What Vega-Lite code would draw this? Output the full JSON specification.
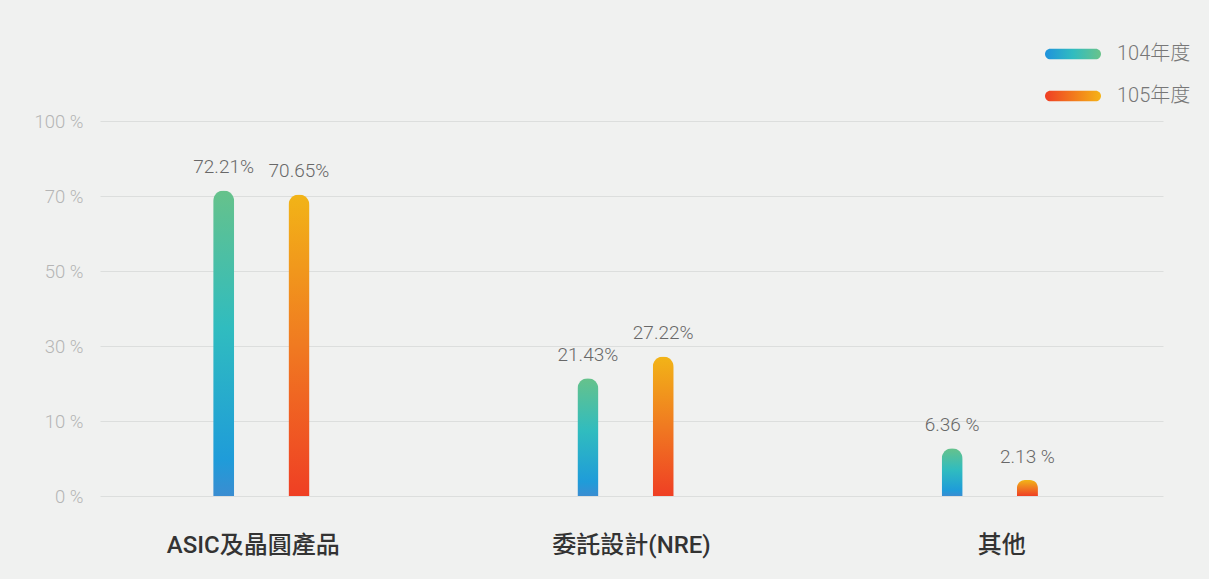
{
  "$schema": "https://vega.github.io/schema/vega-lite/v6.json",
  "width": 1063,
  "height": 375,
  "autosize": "none",
  "padding": {"left": 100, "top": 121, "right": 46, "bottom": 83},
  "background": "#f0f1f0",
  "config": {"view": {"stroke": null}, "font": "Roboto, Noto Sans CJK TC"},
  "data": {"values": [
    {"category": "ASIC及晶圓產品", "year": "104年度", "value": 72.21, "label": "72.21%"},
    {"category": "ASIC及晶圓產品", "year": "105年度", "value": 70.65, "label": "70.65%"},
    {"category": "委託設計(NRE)", "year": "104年度", "value": 21.43, "label": "21.43%"},
    {"category": "委託設計(NRE)", "year": "105年度", "value": 27.22, "label": "27.22%"},
    {"category": "其他", "year": "104年度", "value": 6.36, "label": "6.36 %"},
    {"category": "其他", "year": "105年度", "value": 2.13, "label": "2.13 %"}
  ]},
  "encoding": {
    "x": {
      "field": "category", "type": "nominal", "sort": null,
      "scale": {"paddingInner": 0.7356, "paddingOuter": 0.327, "align": 0.475},
      "axis": {
        "title": null, "domain": false, "ticks": false, "labelAngle": 0,
        "labelFontSize": 24, "labelColor": "#333333", "labelFontWeight": 500,
        "labelPadding": 49, "labelBaseline": "middle",
        "labelOffset": {"condition": [{"test": "datum.value === 'ASIC及晶圓產品'", "value": -8}, {"test": "datum.value === '其他'", "value": 12}], "value": 6}
      }
    },
    "xOffset": {"field": "year", "type": "nominal", "scale": {"paddingInner": 0.721, "paddingOuter": 0}},
    "y": {
      "field": "value", "type": "quantitative",
      "scale": {"type": "linear", "domain": [0, 10, 30, 50, 70, 100], "range": [375, 300, 225, 150, 75, 0], "nice": false, "zero": false},
      "axis": {
        "values": [0, 10, 30, 50, 70, 100], "labelExpr": "datum.value + ' %'",
        "title": null, "domain": false, "ticks": false,
        "gridColor": "#dcdedd", "gridWidth": 1,
        "labelFontSize": 18.5, "labelColor": "#b5b5b5", "labelFontWeight": 300, "labelPadding": 17
      }
    }
  },
  "layer": [
    {
      "mark": {"type": "bar", "cornerRadiusTopLeft": 10.5, "cornerRadiusTopRight": 10.5},
      "encoding": {
        "fill": {
          "condition": {
            "test": "datum.year === '104年度'",
            "value": {"gradient": "linear", "x1": 0, "y1": 1, "x2": 0, "y2": 0, "stops": [
              {"offset": 0, "color": "#3a8dd1"}, {"offset": 0.12, "color": "#1f9cd9"},
              {"offset": 0.55, "color": "#30bcbf"}, {"offset": 1, "color": "#66c28b"}]}
          },
          "value": {"gradient": "linear", "x1": 0, "y1": 1, "x2": 0, "y2": 0, "stops": [
            {"offset": 0, "color": "#ef3f24"}, {"offset": 0.5, "color": "#f07a21"}, {"offset": 1, "color": "#f2b417"}]}
        }
      }
    },
    {
      "mark": {"type": "text", "dy": -17, "baseline": "alphabetic", "fontSize": 19, "fontWeight": 300, "color": "#686868"},
      "encoding": {"text": {"field": "label"}}
    },
    {
      "mark": {
        "type": "point", "size": 0, "filled": true, "strokeWidth": 0,
        "fill": {"expr": "(datum.year || datum.value) === '104年度' ? {gradient: 'linear', x1: 0, y1: 0, x2: 1, y2: 0, stops: [{offset: 0, color: '#1f92dc'}, {offset: 0.5, color: '#30bcc0'}, {offset: 1, color: '#6ac38a'}]} : {gradient: 'linear', x1: 0, y1: 0, x2: 1, y2: 0, stops: [{offset: 0, color: '#ef3e24'}, {offset: 1, color: '#f5b316'}]}"}
      },
      "encoding": {
        "opacity": {
          "field": "year", "type": "ordinal",
          "scale": {"range": [1, 1]},
          "legend": {
            "title": null, "orient": "none", "legendX": 945, "legendY": -95,
            "symbolType": "M-0.809,-0.191L0.809,-0.191A0.191,0.191,0,0,1,0.809,0.191L-0.809,0.191A0.191,0.191,0,0,1,-0.809,-0.191Z",
            "symbolSize": 3136, "symbolStrokeWidth": 0,
            "labelFontSize": 20, "labelColor": "#777777", "labelFontWeight": 300,
            "labelOffset": 16, "rowPadding": 4, "padding": 0
          }
        }
      }
    }
  ]
}
